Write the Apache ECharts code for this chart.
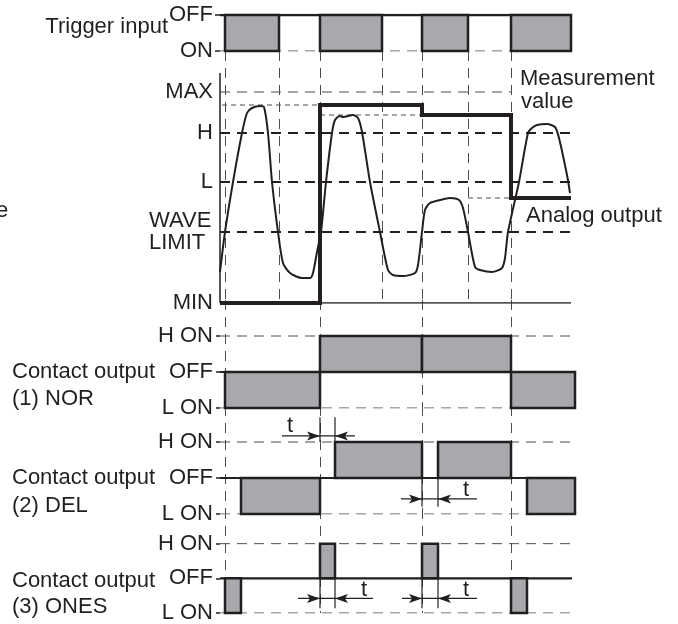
<!DOCTYPE html>
<html><head><meta charset="utf-8">
<script src="https://cdn.jsdelivr.net/npm/echarts@6/dist/echarts.min.js"></script>
<style>html,body{margin:0;padding:0;background:#fff}#c{width:678px;height:624px}</style>
</head><body><div id="c"></div>
<script>
// ================= DATA =================
// time axis: arbitrary time units
const triggerLevelNames = ['ON', 'OFF'];            // y = 0, 1
const triggerPulses = [[5, 59], [100, 162], [202, 248], [291, 351]];

const levelNames  = ['MIN', 'WAVE\nLIMIT', 'L', 'H', 'MAX'];
const levelValues = [0, 71, 121, 170, 211];

const measTime  = [0, 5, 13, 22, 27, 32, 40, 44, 48, 52, 58, 63, 70, 82, 90, 93, 97, 101, 106, 112, 115, 120, 123, 133, 138, 142, 150, 160, 168, 173, 183, 195, 198, 202, 205, 210, 220, 230, 239, 243, 248, 255, 260, 272, 282, 285, 288, 299, 308, 312, 317, 327, 335, 339, 347, 350];
const measValue = [31, 71, 121, 170, 190, 195, 197, 196, 170, 121, 71, 40, 30, 25, 25, 30, 51, 71, 121, 170, 183, 187, 186, 188, 185, 171, 121, 71, 33, 28, 27, 30, 38, 71, 93, 100, 103, 105, 103, 95, 71, 36, 33, 31, 35, 45, 71, 121, 170, 175, 178, 179, 176, 165, 128, 110];

const analogTime  = [0, 100, 100, 202, 202, 291, 291, 351];
const analogValue = [0, 0, 198, 198, 188, 188, 105, 105];

// held peak levels: [from, to, value]
const holdLevels = [[2, 100, 198], [100, 202, 188], [248, 291, 105]];

const edgeTimes = [5, 59, 100, 162, 202, 248, 291];
const outputEdgeTimes = [5, 100, 202, 291];

const contactLevelNames = ['L ON', 'OFF', 'H ON'];   // y = -1, 0, 1
const contactTitles = ['(1) NOR', '(2) DEL', '(3) ONES'];
// pulses: [start, end, level]
const norPulses  = [[5, 100, -1], [100, 202, 1], [202, 291, 1], [291, 355, -1]];
const delPulses  = [[21, 100, -1], [115, 202, 1], [218, 291, 1], [307, 355, -1]];
const onesPulses = [[5, 21, -1], [100, 115, 1], [202, 218, 1], [291, 307, -1]];
const delayMarks = [[100, 115], [202, 218]];

// ================= STYLE / LAYOUT =================
const INK = '#231f20', FILL = '#a7a9ac', GUIDE = '#4d4d4f';
const FONT = '"Liberation Sans", Arial, Helvetica, sans-serif';
const FS = 22;
const T_MAX = 355;
const LEFT = 220, WIDTH = 355;
const contactTops = [300, 406, 509];
const contactSets = [norPulses, delPulses, onesPulses];

const grids = [
  {left: LEFT, width: WIDTH, top: 15, height: 36},
  {left: LEFT, width: WIDTH, top: 51, height: 252}
].concat(contactTops.map(t => ({left: LEFT, width: WIDTH, top: t, height: 108})));

const xAxes = grids.map((g, i) => ({gridIndex: i, type: 'value', min: 0, max: T_MAX, show: false}));

const labelBase = {color: INK, fontSize: FS, fontFamily: FONT, margin: 7};
const yAxes = [
  {gridIndex: 0, type: 'value', min: 0, max: 1, axisLine: {show: false}, splitLine: {show: false},
   axisTick: {show: true, customValues: [0, 1], length: 5, lineStyle: {color: INK, width: 1.5}},
   axisLabel: Object.assign({customValues: [0, 1], formatter: v => triggerLevelNames[Math.round(v)]}, labelBase)},
  {gridIndex: 1, type: 'value', min: 0, max: 252, axisLine: {show: false}, splitLine: {show: false},
   axisTick: {show: false},
   axisLabel: Object.assign({customValues: levelValues,
     formatter: v => {
       const n = levelNames[levelValues.indexOf(v)] || '';
       return n.indexOf('\n') >= 0 ? n.split('\n').map(s => '{w|' + s + '}').join('\n') : n;
     },
     rich: {w: {width: 64, align: 'left', fontSize: FS, fontFamily: FONT, color: INK, lineHeight: 22}}
   }, labelBase)}
].concat(contactTops.map((t, k) => ({
  gridIndex: 2 + k, type: 'value', min: -1, max: 2, axisLine: {show: false}, splitLine: {show: false},
  axisTick: {show: true, customValues: [-1, 0, 1], length: 4, lineStyle: {color: INK, width: 1.5}},
  axisLabel: Object.assign({customValues: [-1, 0, 1], formatter: v => contactLevelNames[Math.round(v) + 1]}, labelBase)
})));

function hline(gi, data, width, dash, color, z) {
  return {type: 'line', xAxisIndex: gi, yAxisIndex: gi, data: data, showSymbol: false, symbol: 'none',
    silent: true, z: z || 2, animation: false,
    lineStyle: {color: color || INK, width: width, type: dash || 'solid', cap: 'butt', join: 'miter'}};
}

function guideSeries(gi, times) {
  return {type: 'custom', xAxisIndex: gi, yAxisIndex: gi, z: 1, silent: true, animation: false,
    data: times.map(t => [t, 0]),
    renderItem: function (params, api) {
      const cs = params.coordSys;
      const p = api.coord([api.value(0), 0]);
      const x = Math.round(p[0]) + 0.5;
      return {type: 'line', shape: {x1: x, y1: cs.y, x2: x, y2: cs.y + cs.height},
        style: {stroke: GUIDE, lineWidth: 1, lineDash: [10, 7]}};
    }};
}

function rectSeries(gi, data, base) {
  return {type: 'custom', xAxisIndex: gi, yAxisIndex: gi, z: 4, silent: true, animation: false,
    data: data.map(d => [d[0], d[1], base, d[2] === undefined ? 0 : d[2]]),
    renderItem: function (params, api) {
      const a = api.coord([api.value(0), api.value(2)]);
      const b = api.coord([api.value(1), api.value(3)]);
      return {type: 'rect', shape: {x: Math.min(a[0], b[0]), y: Math.min(a[1], b[1]),
        width: Math.abs(b[0] - a[0]), height: Math.abs(b[1] - a[1])},
        style: {fill: FILL, stroke: INK, lineWidth: 2.5}};
    }};
}

// delay marker styles per panel (arrow height, tick extent, shaft lengths, label)
const markerStyles = {
  3: [{y: 1.17, tick: [1, 1.69], left: 38, right: 20, labelRef: 'a', labelDx: -30, labelY: 1.45},
      {y: -0.58, tick: [0, -0.8], left: 21, right: 39, labelRef: 'b', labelDx: 28, labelY: -0.33}],
  4: [{y: -0.58, tick: [0, -0.86], left: 22, right: 38, labelRef: 'b', labelDx: 29, labelY: -0.33},
      {y: -0.58, tick: [0, -0.86], left: 20, right: 39, labelRef: 'b', labelDx: 28, labelY: -0.33}]
};

function head(tx, ty, dir) { // dir = 1 pointing right, -1 pointing left
  return {type: 'polygon', shape: {points: [[tx, ty], [tx - dir * 13, ty - 4.5], [tx - dir * 10, ty], [tx - dir * 13, ty + 4.5]]},
    style: {fill: INK}};
}

function markerSeries(gi) {
  return {type: 'custom', xAxisIndex: gi, yAxisIndex: gi, z: 6, silent: true, animation: false,
    data: delayMarks,
    renderItem: function (params, api) {
      const s = markerStyles[gi][params.dataIndex];
      const xa = api.value(0), xb = api.value(1);
      const A = api.coord([xa, s.y]), B = api.coord([xb, s.y]);
      const t0 = api.coord([xa, s.tick[0]])[1], t1 = api.coord([xa, s.tick[1]])[1];
      const ln = {stroke: INK, lineWidth: 1.2};
      const lp = api.coord([(s.labelRef === 'a' ? xa : xb) + s.labelDx, s.labelY]);
      return {type: 'group', children: [
        {type: 'line', shape: {x1: A[0], y1: t0, x2: A[0], y2: t1}, style: ln},
        {type: 'line', shape: {x1: B[0], y1: t0, x2: B[0], y2: t1}, style: ln},
        {type: 'line', shape: {x1: A[0] - s.left, y1: A[1], x2: B[0] + s.right, y2: B[1]}, style: ln},
        head(A[0], A[1], 1),
        head(B[0], B[1], -1),
        {type: 'text', x: lp[0], y: lp[1], style: {text: 't', font: FS + 'px ' + FONT, fill: INK, align: 'center', verticalAlign: 'middle'}}
      ]};
    }};
}

const series = [];
// trigger panel
series.push(guideSeries(1, edgeTimes));
series.push(hline(0, [[0, 0], [351, 0]], 1, [10, 7], GUIDE, 2));
series.push(hline(0, [[0, 1], [351, 1]], 2.5, 'solid', INK, 3));
series.push(rectSeries(0, triggerPulses.map(p => [p[0], p[1], 0]), 1));
// analog panel
series.push(hline(1, [[0, levelValues[4]], [291, levelValues[4]]], 1, [10, 7], GUIDE, 2));
[1, 2, 3].forEach(i => series.push(hline(1, [[0, levelValues[i]], [351, levelValues[i]]], 2, [10, 7], INK, 2)));
holdLevels.forEach(h => series.push(hline(1, [[h[0], h[2]], [h[1], h[2]]], 1, [5, 4], GUIDE, 2)));
series.push(hline(1, [[0, 0], [351, 0]], 1.5, 'solid', INK, 3));
series.push(hline(1, [[0, 0], [0, 230]], 1.5, 'solid', INK, 3));
series.push({type: 'line', xAxisIndex: 1, yAxisIndex: 1, showSymbol: false, symbol: 'none', smooth: 0.25,
  animation: false, silent: true, z: 5, data: measTime.map((t, i) => [t, measValue[i]]),
  lineStyle: {color: INK, width: 2}});
series.push(hline(1, analogTime.map((t, i) => [t, analogValue[i]]), 4, 'solid', INK, 6));
// contact panels
contactSets.forEach((set, k) => {
  const gi = 2 + k;
  series.push(guideSeries(gi, outputEdgeTimes));
  series.push(hline(gi, [[0, 1], [352, 1]], 1, [10, 7], GUIDE, 2));
  series.push(hline(gi, [[0, -1], [352, -1]], 1, [10, 7], GUIDE, 2));
  series.push(hline(gi, [[0, 0], [k === 2 ? 352 : 355, 0]], 2.2, 'solid', INK, 3));
  series.push(rectSeries(gi, set, 0));
});
series.push(markerSeries(3));
series.push(markerSeries(4));

const txt = (text, x, y, align) => ({type: 'text', x: x, y: y, silent: true,
  style: {text: text, font: FS + 'px ' + FONT, fill: INK, align: align || 'left', verticalAlign: 'middle'}});
const graphic = [
  txt('Trigger input', 168, 27, 'right'),
  txt('e', -4, 211),
  txt('Measurement', 520, 79),
  txt('value', 521, 102),
  txt('Analog output', 526, 216)
];
const titleY = [[372, 399], [478, 506], [581, 607]];
contactTitles.forEach((t, k) => {
  graphic.push(txt('Contact output', 12, titleY[k][0]));
  graphic.push(txt(t, 12, titleY[k][1]));
});

const chart = echarts.init(document.getElementById('c'), null, {renderer: 'canvas'});
chart.setOption({
  animation: false,
  backgroundColor: '#ffffff',
  grid: grids, xAxis: xAxes, yAxis: yAxes,
  series: series,
  graphic: graphic
});
</script></body></html>
